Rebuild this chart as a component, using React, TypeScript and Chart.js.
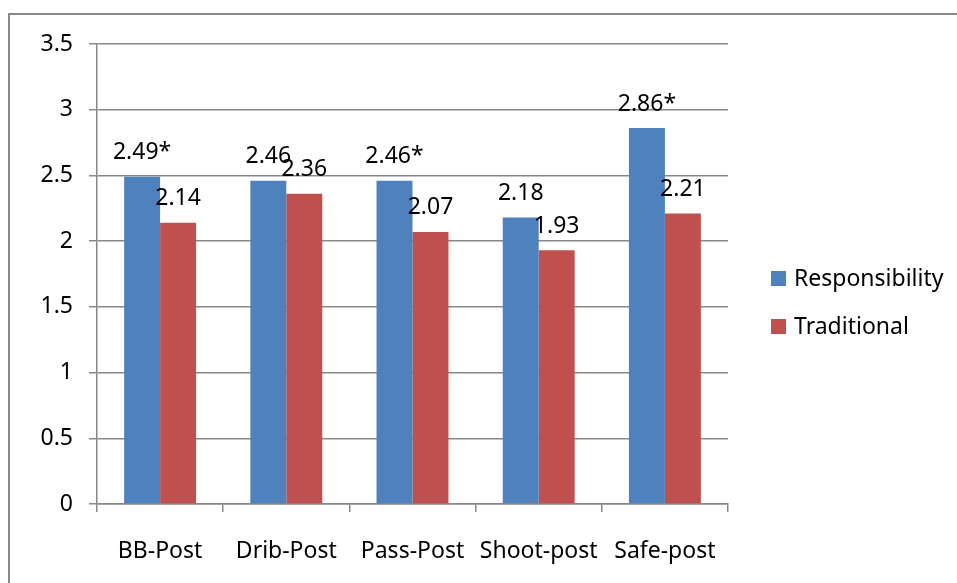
import React, { useEffect, useRef } from "react";
import { Chart, registerables } from "chart.js";

Chart.register(...registerables);

const categories = ["BB-Post", "Drib-Post", "Pass-Post", "Shoot-post", "Safe-post"];
const responsibilityValues = [2.49, 2.46, 2.46, 2.18, 2.86];
const traditionalValues = [2.14, 2.36, 2.07, 1.93, 2.21];
const responsibilityLabels = ["2.49*", "2.46", "2.46*", "2.18", "2.86*"];
const traditionalLabels = ["2.14", "2.36", "2.07", "1.93", "2.21"];
const seriesNames = ["Responsibility", "Traditional"];
const yMin = 0;
const yMax = 3.5;
const yStep = 0.5;

const FONT = "'Noto Sans', sans-serif";
const BLUE = "#4F81BD";
const RED = "#C0504D";
const GRID = "#888888";

export default function App() {
  const ref = useRef<HTMLCanvasElement | null>(null);

  useEffect(() => {
    if (!ref.current) return;
    const labelsBySeries = [responsibilityLabels, traditionalLabels];

    const decor = {
      id: "decor",
      beforeDraw(chart: any) {
        const ctx = chart.ctx;
        ctx.save();
        ctx.fillStyle = "#ffffff";
        ctx.fillRect(0, 0, chart.width, chart.height);
        ctx.strokeStyle = "#888888";
        ctx.lineWidth = 2;
        ctx.strokeRect(9, 14, 2000, 2000);
        ctx.restore();
      },
      afterDatasetsDraw(chart: any) {
        const ctx = chart.ctx;
        ctx.save();
        ctx.font = `23px ${FONT}`;
        ctx.fillStyle = "#000";
        ctx.textAlign = "center";
        ctx.textBaseline = "middle";
        chart.data.datasets.forEach((ds: any, di: number) => {
          const meta = chart.getDatasetMeta(di);
          meta.data.forEach((bar: any, i: number) => {
            ctx.fillText(labelsBySeries[di][i], bar.x, bar.y - 24);
          });
        });
        // legend
        const lx = 771;
        const ly = 271;
        chart.data.datasets.forEach((ds: any, di: number) => {
          const y = ly + di * 48;
          ctx.fillStyle = ds.backgroundColor;
          ctx.fillRect(lx, y, 15, 15);
          ctx.fillStyle = "#000";
          ctx.textAlign = "left";
          ctx.fillText(ds.label, lx + 23, y + 8);
        });
        ctx.restore();
      },
    };

    const chart = new Chart(ref.current, {
      type: "bar",
      data: {
        labels: categories,
        datasets: [
          { label: seriesNames[0], data: responsibilityValues, backgroundColor: BLUE },
          { label: seriesNames[1], data: traditionalValues, backgroundColor: RED },
        ],
      },
      options: {
        responsive: false,
        animation: false,
        layout: { padding: { top: 44, right: 229, left: 0, bottom: 0 } },
        plugins: { legend: { display: false }, tooltip: { enabled: false } },
        datasets: { bar: { barPercentage: 1, categoryPercentage: 0.57 } },
        scales: {
          x: {
            grid: { offset: true, drawOnChartArea: false, tickLength: 8, color: GRID, lineWidth: 1.5 },
            border: { color: GRID, width: 1.5 },
            ticks: { color: "#000", font: { family: FONT, size: 23 }, padding: 26, maxRotation: 0, autoSkip: false },
            afterFit(scale: any) {
              scale.height = 79;
            },
          },
          y: {
            min: yMin,
            max: yMax,
            grid: { tickLength: 8, color: GRID, lineWidth: 1.5 },
            border: { color: GRID, width: 1.5 },
            ticks: {
              stepSize: yStep,
              color: "#000",
              font: { family: FONT, size: 23 },
              padding: 16,
              callback: (v: any) => String(Number(v)),
            },
            afterFit(scale: any) {
              scale.width = 97;
            },
          },
        },
      },
      plugins: [decor],
    });
    return () => chart.destroy();
  }, []);

  return (
    <div style={{ position: "absolute", left: 0, top: 0, width: 957, height: 583 }}>
      <canvas ref={ref} width={957} height={583} style={{ display: "block" }} />
    </div>
  );
}
